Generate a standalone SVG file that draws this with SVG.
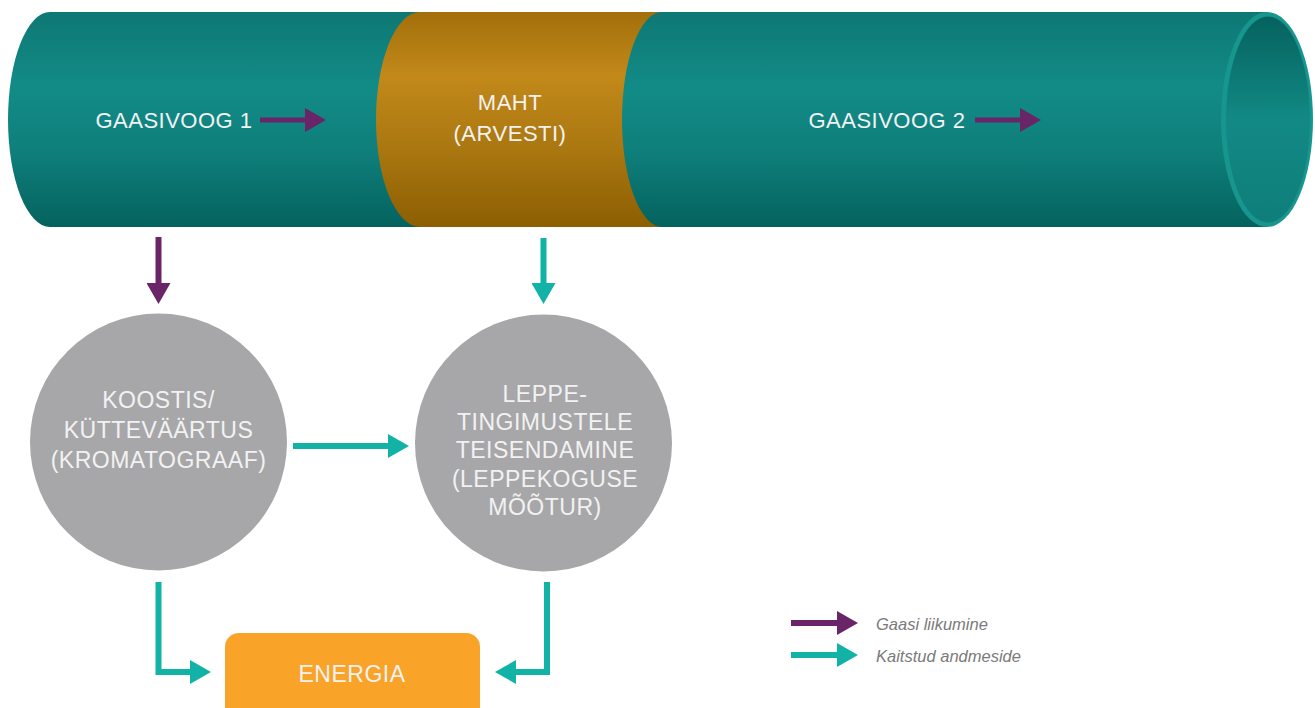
<svg xmlns="http://www.w3.org/2000/svg" width="1315" height="708" viewBox="0 0 1315 708">
<defs>
<linearGradient id="teal" x1="0" y1="0" x2="0" y2="1">
<stop offset="0" stop-color="#0e7874"/>
<stop offset="0.35" stop-color="#128b87"/>
<stop offset="0.65" stop-color="#0f7f7b"/>
<stop offset="1" stop-color="#04625e"/>
</linearGradient>
<linearGradient id="gold" x1="0" y1="0" x2="0" y2="1">
<stop offset="0" stop-color="#a36f0b"/>
<stop offset="0.3" stop-color="#c2891a"/>
<stop offset="0.65" stop-color="#a97610"/>
<stop offset="1" stop-color="#8d5f02"/>
</linearGradient>
<linearGradient id="inner" x1="0" y1="0" x2="0" y2="1">
<stop offset="0" stop-color="#05625e"/>
<stop offset="0.5" stop-color="#128985"/>
<stop offset="1" stop-color="#0f7e7a"/>
</linearGradient>
<marker id="hp" viewBox="0 0 10 10" refX="0" refY="5" markerWidth="21" markerHeight="24" markerUnits="userSpaceOnUse" orient="auto" preserveAspectRatio="none">
<path d="M0,0 L10,5 L0,10 Z" fill="#6a2468"/>
</marker>
<marker id="ht" viewBox="0 0 10 10" refX="0" refY="5" markerWidth="21" markerHeight="24" markerUnits="userSpaceOnUse" orient="auto" preserveAspectRatio="none">
<path d="M0,0 L10,5 L0,10 Z" fill="#12b3a6"/>
</marker>
</defs>
<style>
.lbl{font-family:"Liberation Sans",Arial,sans-serif;fill:#f2f2f2;text-anchor:middle;letter-spacing:0.5px}
.pipe{font-size:22px}
.circ{font-size:23px}
.leg{font-family:"Liberation Sans",Arial,sans-serif;font-style:italic;font-size:16.5px;fill:#7a7a7a}
.gas{stroke:#6a2468;stroke-width:5;fill:none}
.data{stroke:#12b3a6;stroke-width:6;fill:none}
</style>

<g id="pipe1">
<path d="M50,12 H440 V227 H50 A42,107.5 0 0 1 50,12 Z" fill="url(#teal)"/>
<text class="lbl pipe" x="174" y="128">GAASIVOOG 1</text>
</g>
<g id="meter">
<path d="M420,12 H680 V227 H420 A44,107.5 0 0 1 420,12 Z" fill="url(#gold)"/>
<text class="lbl pipe" x="510" y="110">MAHT</text>
<text class="lbl pipe" x="510" y="141">(ARVESTI)</text>
</g>
<g id="pipe2">
<path d="M662,12 H1267 V227 H662 A40,107.5 0 0 1 662,12 Z" fill="url(#teal)"/>
<ellipse cx="1267" cy="119.5" rx="46" ry="107.5" fill="#17958f"/>
<ellipse cx="1268" cy="119.5" rx="42" ry="103" fill="url(#inner)"/>
<text class="lbl pipe" x="887" y="128">GAASIVOOG 2</text>
</g>

<g id="chromatograph">
<circle cx="158.5" cy="442" r="128.5" fill="#a7a7a9"/>
<text class="lbl circ" x="158.5" y="408">KOOSTIS/</text>
<text class="lbl circ" x="158.5" y="438">KÜTTEVÄÄRTUS</text>
<text class="lbl circ" x="158.5" y="468">(KROMATOGRAAF)</text>
</g>
<g id="converter">
<circle cx="543.5" cy="443" r="128.5" fill="#a7a7a9"/>
<text class="lbl circ" x="545" y="402">LEPPE-</text>
<text class="lbl circ" x="545" y="430">TINGIMUSTELE</text>
<text class="lbl circ" x="545" y="458">TEISENDAMINE</text>
<text class="lbl circ" x="545" y="487">(LEPPEKOGUSE</text>
<text class="lbl circ" x="545" y="515">MÕÕTUR)</text>
</g>
<g id="energia">
<rect x="225" y="633" width="255" height="90" rx="14" fill="#f9a328"/>
<text class="lbl circ" x="352" y="682">ENERGIA</text>
</g>

<g id="connectors">
<path class="gas" d="M260,120 H305" marker-end="url(#hp)"/>
<path class="gas" d="M975,120 H1020" marker-end="url(#hp)"/>
<path class="gas" d="M158.5,237 V283" style="stroke-width:6" marker-end="url(#hp)"/>
<path class="data" d="M543.5,238 V283" marker-end="url(#ht)"/>
<path class="data" d="M293,446 H388" marker-end="url(#ht)"/>
<path class="data" d="M158.5,582 V672 H190" marker-end="url(#ht)"/>
<path class="data" d="M547,582 V672 H516" marker-end="url(#ht)"/>
</g>

<g id="legend">
<path class="gas" d="M791,623 H837" style="stroke-width:6" marker-end="url(#hp)"/>
<path class="data" d="M791,655 H837" marker-end="url(#ht)"/>
<text class="leg" x="876" y="630">Gaasi liikumine</text>
<text class="leg" x="876" y="662">Kaitstud andmeside</text>
</g>
</svg>
